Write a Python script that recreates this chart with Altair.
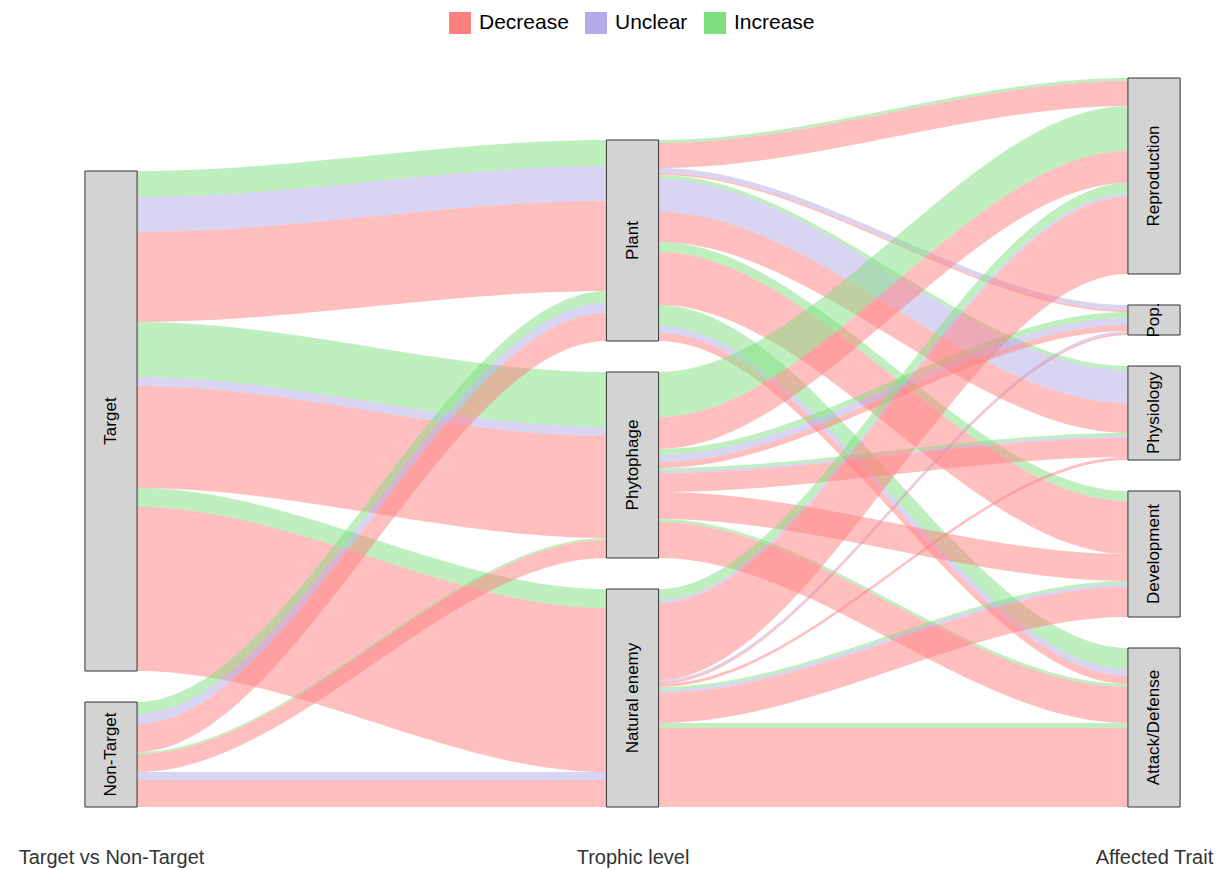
import altair as alt
import pandas as pd
import numpy as np

# ---------------- data ----------------
axis_names = ["Target vs Non-Target", "Trophic level", "Affected Trait"]
axis1_strata = ["Target", "Non-Target"]
axis2_strata = ["Plant", "Phytophage", "Natural enemy"]
axis3_strata = ["Reproduction", "Pop.", "Physiology", "Development", "Attack/Defense"]
effects = ["Decrease", "Unclear", "Increase"]
effect_colors = ["#ff7f7f", "#b3a9e6", "#7fdf7f"]

# flows: Target vs Non-Target -> Trophic level
f1_from = ["Target", "Target", "Target",
           "Target", "Target", "Target",
           "Target", "Target",
           "Non-Target", "Non-Target", "Non-Target",
           "Non-Target", "Non-Target",
           "Non-Target", "Non-Target"]
f1_to = ["Plant", "Plant", "Plant",
         "Phytophage", "Phytophage", "Phytophage",
         "Natural enemy", "Natural enemy",
         "Plant", "Plant", "Plant",
         "Phytophage", "Phytophage",
         "Natural enemy", "Natural enemy"]
f1_effect = ["Increase", "Unclear", "Decrease",
             "Increase", "Unclear", "Decrease",
             "Increase", "Decrease",
             "Increase", "Unclear", "Decrease",
             "Increase", "Decrease",
             "Unclear", "Decrease"]
f1_n = [26, 35, 90,
        55, 9, 102,
        19, 164,
        12, 10, 28,
        2, 18,
        8, 27]

# flows: Trophic level -> Affected Trait
f2_from = (["Plant"] * 12) + (["Phytophage"] * 11) + (["Natural enemy"] * 11)
f2_to = ["Reproduction", "Reproduction",
         "Pop.", "Pop.",
         "Physiology", "Physiology", "Physiology",
         "Development", "Development",
         "Attack/Defense", "Attack/Defense", "Attack/Defense",
         # Phytophage
         "Reproduction", "Reproduction",
         "Pop.", "Pop.", "Pop.",
         "Physiology", "Physiology", "Physiology",
         "Development",
         "Attack/Defense", "Attack/Defense",
         # Natural enemy
         "Reproduction", "Reproduction", "Reproduction",
         "Pop.", "Pop.",
         "Physiology",
         "Development", "Development", "Development",
         "Attack/Defense", "Attack/Defense"]
f2_effect = ["Increase", "Decrease",
             "Unclear", "Decrease",
             "Increase", "Unclear", "Decrease",
             "Increase", "Decrease",
             "Increase", "Unclear", "Decrease",
             "Increase", "Decrease",
             "Increase", "Unclear", "Decrease",
             "Increase", "Unclear", "Decrease",
             "Decrease",
             "Increase", "Decrease",
             "Increase", "Unclear", "Decrease",
             "Unclear", "Decrease",
             "Decrease",
             "Increase", "Unclear", "Decrease",
             "Increase", "Decrease"]
f2_n = [3, 25,
        5, 2,
        4, 33, 30,
        10, 53,
        21, 7, 8,
        45, 32,
        6, 7, 6,
        3, 2, 19,
        27,
        3, 36,
        11, 3, 77,
        2, 2,
        3,
        3, 3, 30,
        5, 79]

# ---------------- layout (derived from the data) ----------------
GAP = 31
HALF = 0.05
fill_rank = {"Increase": 0, "Unclear": 1, "Decrease": 2}


def totals(names, keys, vals):
    t = {s: 0 for s in names}
    for k, v in zip(keys, vals):
        t[k] += v
    return t


def stack(names, tot):
    pos, y = {}, 0
    for s in reversed(names):
        pos[s] = (y, y + tot[s])
        y += tot[s] + GAP
    return pos


pos1 = stack(axis1_strata, totals(axis1_strata, f1_from, f1_n))
pos2 = stack(axis2_strata, totals(axis2_strata, f1_to, f1_n))
pos3 = stack(axis3_strata, totals(axis3_strata, f2_to, f2_n))

rows = []
fid = [0]


def add_flows(src, dst, eff, n, s_names, d_names, s_pos, d_pos, xa, xb):
    idx = list(range(len(n)))
    s_band, d_band = {}, {}
    top = {s: s_pos[s][1] for s in s_names}
    for i in sorted(idx, key=lambda i: (s_names.index(src[i]), d_names.index(dst[i]), fill_rank[eff[i]])):
        t = top[src[i]]
        s_band[i] = (t, t - n[i])
        top[src[i]] = t - n[i]
    top = {s: d_pos[s][1] for s in d_names}
    for i in sorted(idx, key=lambda i: (d_names.index(dst[i]), s_names.index(src[i]), fill_rank[eff[i]])):
        t = top[dst[i]]
        d_band[i] = (t, t - n[i])
        top[dst[i]] = t - n[i]
    ts = np.linspace(0, 1, 60)
    for i in idx:
        fid[0] += 1
        for t in ts:
            s = 3 * t ** 2 - 2 * t ** 3
            rows.append({
                "id": fid[0],
                "effect": eff[i],
                "x": xa + (xb - xa) * t,
                "yt": s_band[i][0] + (d_band[i][0] - s_band[i][0]) * s,
                "yb": s_band[i][1] + (d_band[i][1] - s_band[i][1]) * s,
            })


add_flows(f1_from, f1_to, f1_effect, f1_n, axis1_strata, axis2_strata, pos1, pos2, 1 + HALF, 2 - HALF)
add_flows(f2_from, f2_to, f2_effect, f2_n, axis2_strata, axis3_strata, pos2, pos3, 2 + HALF, 3 - HALF)
flows = pd.DataFrame(rows)

boxes = []
for ax, pos in ((1, pos1), (2, pos2), (3, pos3)):
    for name, (y0, y1) in pos.items():
        boxes.append({"label": name, "x1": ax - HALF, "x2": ax + HALF,
                      "y1": y0, "y2": y1, "xc": ax, "yc": (y0 + y1) / 2})
boxes = pd.DataFrame(boxes)

# ---------------- chart ----------------
FONT = "Liberation Sans, Arial, sans-serif"
xscale = alt.Scale(domain=[0.8025, 3.1227], nice=False, zero=False)
yscale = alt.Scale(domain=[0, 799], nice=False, zero=False)
label_expr = "[" + ",".join("'%s'" % a for a in axis_names) + "][datum.value - 1]"

flow_layer = alt.Chart(flows).mark_area(opacity=0.5, interpolate="linear").encode(
    x=alt.X("x:Q", scale=xscale,
            axis=alt.Axis(values=[1, 2, 3], labelExpr=label_expr, grid=False, domain=False,
                          ticks=False, labelFontSize=20, labelFont=FONT, labelColor="#333333",
                          labelPadding=40, labelFlush=False, labelOverlap=False, labelLimit=0,
                          title=None)),
    y=alt.Y("yt:Q", scale=yscale, stack=None, axis=None),
    y2="yb:Q",
    color=alt.Color("effect:N", scale=alt.Scale(domain=effects, range=effect_colors),
                    legend=alt.Legend(title=None, orient="none", direction="horizontal",
                                      legendX=441, legendY=4, symbolType="square",
                                      symbolSize=484, symbolOpacity=1, symbolStrokeWidth=0,
                                      labelFontSize=21, labelFont=FONT, labelColor="black",
                                      labelOffset=8, columnPadding=16)),
    detail="id:N",
)

box_layer = alt.Chart(boxes).mark_rect(fill="#d3d3d3", stroke="#333333", strokeWidth=1).encode(
    x="x1:Q", x2="x2:Q", y="y1:Q", y2="y2:Q"
)

text_layer = alt.Chart(boxes).mark_text(angle=270, fontSize=17, font=FONT, color="black").encode(
    x="xc:Q", y="yc:Q", text="label:N"
)

chart = alt.layer(flow_layer, box_layer, text_layer).properties(
    width=1210, height=799,
    autosize=alt.AutoSizeParams(type="none"),
    padding={"left": 0, "top": 0, "right": 0, "bottom": 62},
).configure_view(stroke=None)

chart.save("out.html", embed_options={"renderer": "svg", "actions": False})
